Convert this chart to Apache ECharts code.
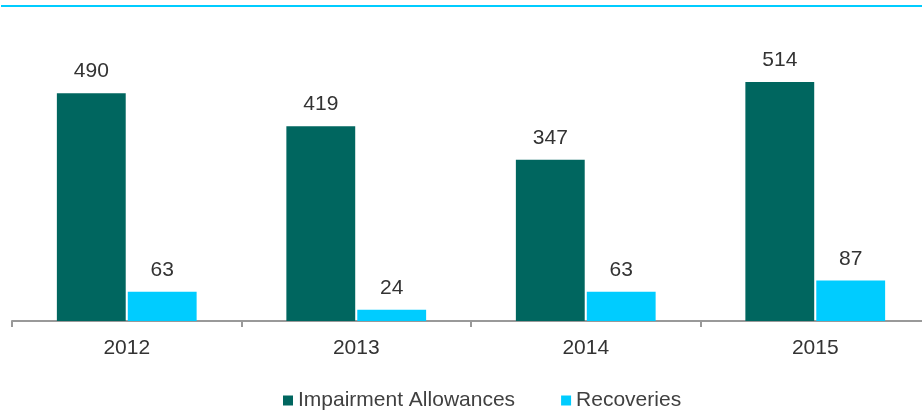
<!DOCTYPE html>
<html>
<head>
<meta charset="utf-8">
<script src="https://cdn.jsdelivr.net/npm/echarts@6/dist/echarts.min.js"></script>
<style>
  html, body { margin: 0; padding: 0; background: #fff; }
  #main { width: 922px; height: 412px; }
</style>
</head>
<body>
<div id="main"></div>
<script>
var years = ['2012', '2013', '2014', '2015'];
var impairment = [490, 419, 347, 514];
var recoveries = [63, 24, 63, 87];

var chart = echarts.init(document.getElementById('main'));
var labelStyle = {
  show: true,
  position: 'top',
  distance: 11,
  color: '#333',
  fontFamily: 'Liberation Sans',
  fontSize: 21
};
chart.setOption({
  animation: false,
  graphic: [{
    type: 'line',
    shape: { x1: 1, y1: 6, x2: 922, y2: 6 },
    style: { stroke: '#00CCFF', lineWidth: 2 }
  }],
  legend: {
    top: 385,
    left: 278,
    padding: [5, 5],
    itemWidth: 10,
    itemHeight: 10,
    itemGap: 46,
    icon: 'rect',
    textStyle: { color: '#404040', fontFamily: 'Liberation Sans', fontSize: 21 },
    data: ['Impairment Allowances', 'Recoveries']
  },
  grid: { left: 12, width: 918, top: 42, height: 279, outerBoundsMode: 'none', containLabel: false },
  xAxis: {
    type: 'category',
    data: years,
    axisLine: { lineStyle: { color: '#999', width: 2 } },
    axisTick: { show: true, length: 6, lineStyle: { color: '#999', width: 2 } },
    axisLabel: { color: '#333', fontFamily: 'Liberation Sans', fontSize: 21, margin: 17 }
  },
  yAxis: {
    type: 'value',
    min: 0,
    max: 600,
    show: false,
    splitLine: { show: false }
  },
  series: [{
    name: 'Impairment Allowances',
    type: 'bar',
    data: impairment,
    barWidth: '30%',
    barGap: '3%',
    itemStyle: { color: '#00665F' },
    label: labelStyle
  }, {
    name: 'Recoveries',
    type: 'bar',
    data: recoveries,
    barWidth: '30%',
    itemStyle: { color: '#00CCFF' },
    label: labelStyle
  }]
});
</script>
</body>
</html>
